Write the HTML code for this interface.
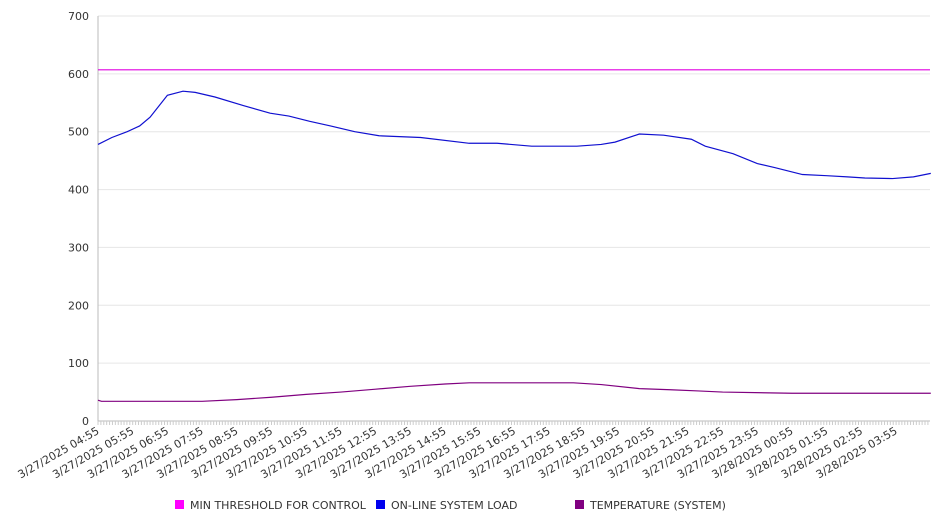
<!DOCTYPE html>
<html><head><meta charset="utf-8"><style>
body{margin:0;background:#fff;font-family:"DejaVu Sans","Liberation Sans",sans-serif}
svg text{font-family:"DejaVu Sans","Liberation Sans",sans-serif;font-size:11px;fill:#333}
</style></head><body>
<svg id="chart" width="946" height="526" xmlns="http://www.w3.org/2000/svg">
<g id="grid"></g><g id="axes"></g><g id="series"></g><g id="legend"></g>
</svg>
<script>
const yTicks=[0,100,200,300,400,500,600,700];
const xLabels=["3/27/2025 04:55","3/27/2025 05:55","3/27/2025 06:55","3/27/2025 07:55","3/27/2025 08:55","3/27/2025 09:55","3/27/2025 10:55","3/27/2025 11:55","3/27/2025 12:55","3/27/2025 13:55","3/27/2025 14:55","3/27/2025 15:55","3/27/2025 16:55","3/27/2025 17:55","3/27/2025 18:55","3/27/2025 19:55","3/27/2025 20:55","3/27/2025 21:55","3/27/2025 22:55","3/27/2025 23:55","3/28/2025 00:55","3/28/2025 01:55","3/28/2025 02:55","3/28/2025 03:55"];
const threshold=607;
const loadHours=[0,0.4,0.84,1.2,1.5,2.0,2.45,2.8,3.37,4.2,4.96,5.5,6.1,6.7,7.4,8.1,9.3,10.7,11.5,12.5,13.0,13.8,14.5,14.9,15.6,16.3,17.1,17.5,18.3,19.0,19.5,20.3,21.0,21.6,22.1,22.9,23.5,24];
const loadValues=[478,490,500,510,525,563,570,568,560,545,532,527,518,510,500,493,490,480,480,475,475,475,478,482,496,494,487,475,462,445,438,426,424,422,420,419,422,428];
const tempHours=[0,0.1,3.0,4,5,6,7,8,9,10,10.7,13.7,14.5,15.6,16.5,17.3,18,20,24];
const tempValues=[36,34,34,37,41,46,50,55,60,64,66,66,63,56,54,52,50,48,48];
const X0=98,X1=930,Y0=421,Y1=16,HSTEP=34.7;
const x=h=>X0+h*HSTEP;
const y=v=>Y0-(v/700)*(Y0-Y1);
const NS="http://www.w3.org/2000/svg";
function mk(t,a,p){const e=document.createElementNS(NS,t);for(const k in a)e.setAttribute(k,a[k]);p.appendChild(e);return e;}
const grid=document.getElementById('grid'),axes=document.getElementById('axes'),series=document.getElementById('series'),legend=document.getElementById('legend');
yTicks.forEach(v=>{
 const l=mk('line',{x1:X0,x2:X1,y1:y(v),y2:y(v),stroke:'#e6e6e6'},grid);
 
 
 const t=mk('text',{x:89,y:y(v)+4,'text-anchor':'end'},axes);t.textContent=v;
 
 
});
const ax=mk('line',{x1:X0,x2:X0,y1:Y1,y2:Y0,stroke:'#bbb'},axes);


const bx=mk('line',{x1:X0,x2:X1,y1:Y0,y2:Y0,stroke:'#bbb'},axes);


for(let i=0;i<=288;i++){const xx=X0+i*HSTEP/12;if(xx>X1)break;mk('line',{x1:xx,x2:xx,y1:Y0,y2:Y0+4,stroke:'#ccc'},axes);}
xLabels.forEach((s,i)=>{
 const t=mk('text',{x:x(i)+2,y:Y0+12,'text-anchor':'end',transform:`rotate(-30 ${x(i)+2} ${Y0+12})`},axes);t.textContent=s;
 
 
});
const th=mk('line',{x1:X0,x2:X1,y1:y(threshold),y2:y(threshold),stroke:'#e000e0','stroke-width':1.2},series);


const lp=mk('polyline',{points:loadHours.map((h,i)=>x(h)+','+y(loadValues[i])).join(' '),fill:'none',stroke:'#1010d0','stroke-width':1.2},series);


const tp=mk('polyline',{points:tempHours.map((h,i)=>x(h)+','+y(tempValues[i])).join(' '),fill:'none',stroke:'#800080','stroke-width':1.2},series);


[["MIN THRESHOLD FOR CONTROL","#ff00ff",175],["ON-LINE SYSTEM LOAD","#0000ee",376],["TEMPERATURE (SYSTEM)","#800080",575]].forEach(([n,c,lx])=>{
 const g=mk('g',{},legend);
 
 
 mk('rect',{x:lx,y:500,width:9,height:9,fill:c},g);
 const t=mk('text',{x:lx+15,y:509},g);t.textContent=n;
});
</script>
</body></html>
